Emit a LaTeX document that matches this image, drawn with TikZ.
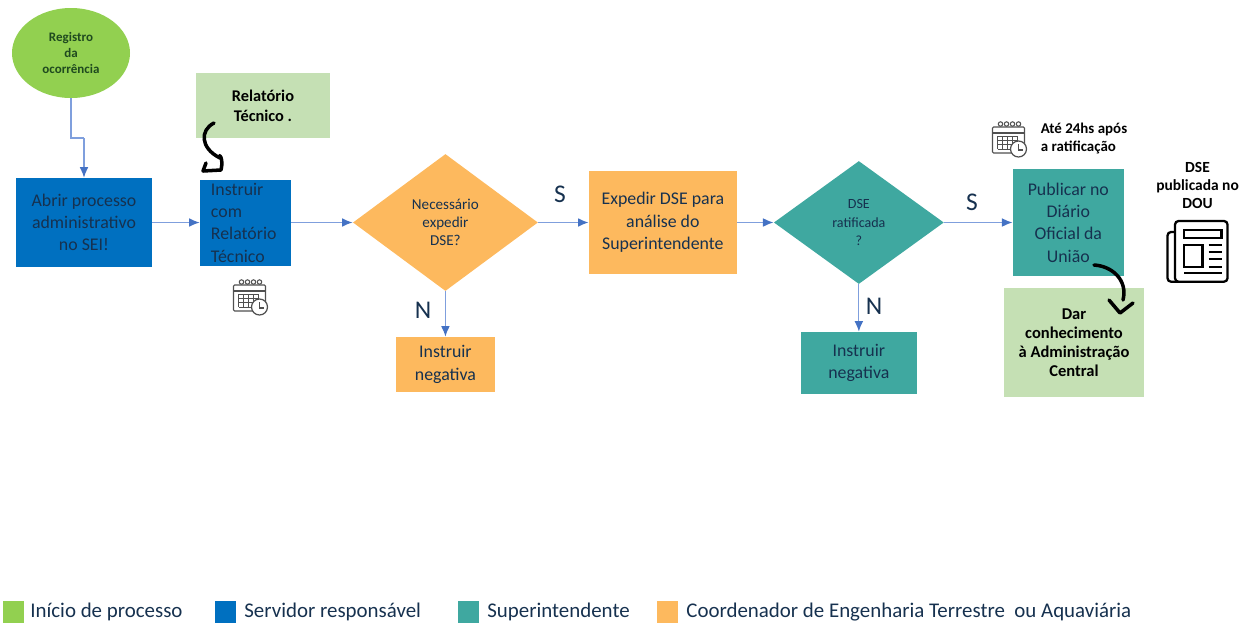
\documentclass[tikz,border=0pt]{standalone}
\usepackage{fontspec}
\setmainfont{Carlito}
\usetikzlibrary{arrows.meta,shapes.geometric}

\definecolor{inicio}{HTML}{92D050}
\definecolor{servidor}{HTML}{0070C0}
\definecolor{superint}{HTML}{3FA8A0}
\definecolor{coord}{HTML}{FDB95E}
\definecolor{apoio}{HTML}{C5E0B4}
\definecolor{linha}{HTML}{7F9FDD}
\definecolor{ponta}{HTML}{4472C4}
\definecolor{escuro}{HTML}{16314F}
\definecolor{musgo}{HTML}{1F4A1F}
\definecolor{icone}{HTML}{505050}

\tikzset{
  caixa/.style={inner sep=0pt,align=center,text=escuro,font=\fontsize{10.15}{12.7}\selectfont},
  azul/.style={caixa,fill=servidor},
  verde/.style={caixa,fill=apoio,text=black,font=\fontsize{9.3}{11.4}\selectfont\bfseries},
  laranja/.style={caixa,fill=coord},
  teal/.style={caixa,fill=superint},
  decisao/.style={diamond,aspect=1.35,inner sep=0pt,align=center,text=escuro},
  resp/.style={inner sep=0pt,text=escuro,font=\fontsize{14.5}{16}\selectfont},
  nota/.style={inner sep=0pt,text=black,font=\fontsize{8.7}{10.5}\selectfont\bfseries},
  swatch/.style={inner sep=0pt,minimum width=21*0.02cm,minimum height=22*0.02cm},
  legenda/.style={inner sep=0pt,anchor=west,text=escuro,font=\fontsize{11.9}{13}\selectfont},
  seta/.style={draw=linha,line width=0.7pt,-{Latex[color=ponta,length=6pt,width=5pt]}},
  mao/.style={draw=black,line width=2pt,line cap=round,line join=round},
  calendario/.pic={
    \draw[icone,line width=0.6pt,fill=white,rounded corners=0.6pt] (-17,-12) rectangle (15,14);
    \draw[icone,line width=0.6pt] (-17,-6) -- (15,-6);
    \foreach \i in {-9,-3,3,9}
      \draw[icone,line width=0.6pt,fill=white] (\i,-15) circle (2.2);
    \foreach \i in {-12,-7,-2,3,8}
      \draw[icone,line width=0.5pt] (\i,-3) -- (\i,10);
    \foreach \j in {-3,1,5,10}
      \draw[icone,line width=0.5pt] (-12,\j) -- (8,\j);
    \draw[icone,line width=0.7pt,fill=white] (9,10) circle (8);
    \draw[icone,line width=0.7pt] (9,5) -- (9,11) -- (13,11);
  },
  jornal/.pic={
    \draw[black,line width=1.3pt,rounded corners=2pt] (-22.5,-19) -- (-30,-19) -- (-30,30.7) -- (25,30.7);
    \draw[black,line width=1.3pt,rounded corners=2pt,fill=white] (-22.5,30.7) -- (-22.5,-30) -- (30,-30) -- (30,30.7) -- cycle;
    \draw[black,line width=1.3pt] (-13.5,-21) rectangle (24,-12.7);
    \draw[black,line width=1.3pt] (-13.5,-6) rectangle (5,15.7);
    \foreach \j in {-6,0.7,8,15.7}
      \draw[black,line width=1.3pt] (11,\j) -- (24,\j);
    \draw[black,line width=1.3pt] (-13.5,22.3) -- (24,22.3);
  }
}

\begin{document}
\begin{tikzpicture}[x=0.02cm,y=-0.02cm]
\useasboundingbox (0,0) rectangle (1253,623);

% linha principal
\node[azul,minimum width=136*0.02cm,minimum height=89*0.02cm] (abrir) at (84,222.5) {Abrir processo\\administrativo\\no SEI!};
\node[azul,align=left,inner xsep=11*0.02cm,text width=69*0.02cm,minimum height=86*0.02cm] (instruir) [right of=abrir,node distance=3.23cm] {Instruir\\com\\Relatório\\Técnico};
\node[decisao,fill=coord,minimum width=185*0.02cm,minimum height=137*0.02cm,font=\fontsize{8.6}{10.3}\selectfont] (dec1) [right of=instruir,node distance=4cm] {Necessário\\expedir\\DSE?};
\node[laranja,minimum width=148*0.02cm,minimum height=103*0.02cm] (expedir) [right of=dec1,node distance=4.35cm] {Expedir DSE para\\análise do\\Superintendente};
\node[decisao,fill=superint,minimum width=170*0.02cm,minimum height=123*0.02cm,font=\fontsize{8}{10.3}\selectfont] (dec2) [right of=expedir,node distance=3.92cm] {DSE\\ratificada\\?};
\node[teal,minimum width=111*0.02cm,minimum height=107*0.02cm] (publicar) [right of=dec2,node distance=4.19cm] {Publicar no\\Diário\\Oficial da\\União};

% demais caixas
\node[ellipse,caixa,fill=inicio,minimum width=118*0.02cm,minimum height=90*0.02cm,text=musgo,font=\fontsize{7.4}{9.2}\selectfont\bfseries] (registro) at (71,53) {Registro\\da\\ocorrência};
\node[verde,minimum width=134*0.02cm,minimum height=65*0.02cm] (relatorio) at (263,105.5) {Relatório\\Técnico .};
\node[laranja,minimum width=99*0.02cm,minimum height=55*0.02cm] (neg1) [below of=dec1,node distance=2.84cm] {Instruir\\negativa};
\node[teal,minimum width=116*0.02cm,minimum height=62*0.02cm] (neg2) [below of=dec2,node distance=2.81cm] {Instruir\\negativa};
\node[verde,minimum width=140*0.02cm,minimum height=109*0.02cm,font=\fontsize{9.4}{10.8}\selectfont\bfseries] (dar) at (1074,342.5) {Dar\\conhecimento\\à Administração\\Central};

% respostas
\node[resp] (s1) at (560,194) {S};
\node[resp] (n1) at (423,310) {N};
\node[resp] (s2) at (972,202) {S};
\node[resp] (n2) at (874,306) {N};

% notas e icones
\node[nota,align=left,font=\fontsize{8.5}{9.8}\selectfont\bfseries] (prazo) at (1084,138.5) {Até 24hs após\\a ratificação};
\node[nota,align=center,font=\fontsize{8.8}{10.5}\selectfont\bfseries] (publicada) at (1197.5,185.5) {DSE\\publicada no\\DOU};
\pic at (250.5,297) {calendario};
\pic at (1009.5,139) {calendario};
\pic at (1197.5,251) {jornal};

% conectores
\coordinate (dobra) at (84,138);
\draw[draw=linha,line width=0.7pt] (registro.south) -- (dobra -| registro.south) -- (dobra);
\draw[seta] (dobra) -- (abrir.north);
\draw[seta] (abrir) -- (instruir);
\draw[seta] (instruir) -- (dec1);
\draw[seta] (dec1) -- (expedir);
\draw[seta] (expedir) -- (dec2);
\draw[seta] (dec2) -- (publicar);
\draw[seta] (dec1) -- (neg1);
\draw[seta] (dec2) -- (neg2);

% setas feitas a mao
\coordinate (ma) at (214,123);
\coordinate (mb) at (220,158);
\coordinate (mc) at (203,171);
\draw[mao] (ma) .. controls (200,130) and (200,148) .. (mb) .. controls (218,152) and (224,158) .. (221,170) -- (mc) -- (206,163);
\coordinate (md) at (1094,265);
\coordinate (me) at (1123,300);
\draw[mao] (md) .. controls (1112,266) and (1128,280) .. (me);
\coordinate (mf) at (1109,300);
\coordinate (mg) at (1133,303);
\draw[mao] (mf) -- (1120,313) -- (mg);

% legenda
\node[swatch,fill=inicio] (leg1) at (13.5,612) {};
\node[swatch,fill=servidor] (leg2) [right of=leg1,node distance=4.24cm] {};
\node[swatch,fill=superint] (leg3) [right of=leg2,node distance=4.86cm] {};
\node[swatch,fill=coord] (leg4) [right of=leg3,node distance=3.98cm] {};
\node[legenda] (txt1) at (30,612) {Início de processo};
\node[legenda] (txt2) at (244,612) {Servidor responsável};
\node[legenda] (txt3) at (487,612) {Superintendente};
\node[legenda] (txt4) at (686,612) {Coordenador de Engenharia Terrestre\ \ ou Aquaviária};
\end{tikzpicture}
\end{document}
